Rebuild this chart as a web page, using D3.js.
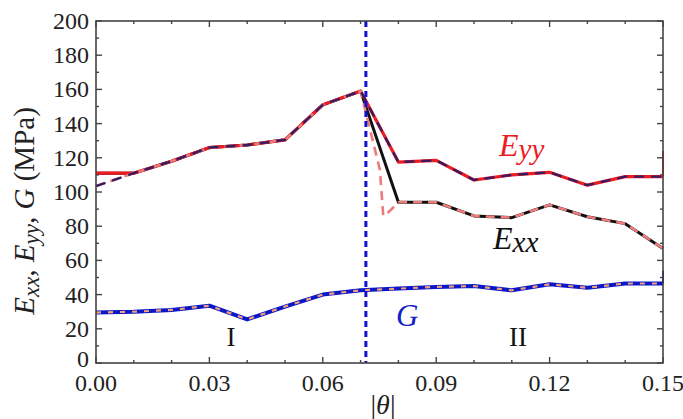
<!DOCTYPE html>
<html>
<head>
<meta charset="utf-8">
<script src="https://cdnjs.cloudflare.com/ajax/libs/d3/7.8.5/d3.min.js"></script>
<style>
  body { margin: 0; background: #fff; }
  svg text { font-family: "Liberation Serif", "Times New Roman", serif; }
</style>
</head>
<body>
<div id="svgDiv"></div>
<script>
// data
var thetaGrid = [0.00, 0.01, 0.02, 0.03, 0.04, 0.05, 0.06, 0.07, 0.08, 0.09, 0.10, 0.11, 0.12, 0.13, 0.14, 0.15];
var eyyVals  = [111, 111, 118, 126, 127.5, 130.5, 151, 159, 117.5, 118.5, 107, 110, 111.5, 104, 109, 109];
var exxVals  = [111, 111, 118, 126, 127.5, 130.5, 151, 159, 94, 94, 86, 85, 92.5, 85.5, 81.5, 67];
var gVals    = [29.5, 30, 31, 33.5, 25.5, 33, 40, 42.5, 43.5, 44.5, 45, 42.5, 46, 44, 46.5, 46.5];

// edge segments at the right border
var eyyEdgeX = [0.15, 0.15], eyyEdgeY = [109, 124];
var gEdgeX = [0.15, 0.15], gEdgeY = [46.5, 54];

// dashed overlays
var eyyFitX = [0.00, 0.01, 0.02, 0.03, 0.04, 0.05, 0.06, 0.07, 0.08, 0.09, 0.10, 0.11, 0.12, 0.13, 0.14, 0.15];
var eyyFitY = [103.5, 111, 118, 126, 127.5, 130.5, 151, 159, 117.5, 118.5, 107, 110, 111.5, 104, 109, 109];
var exxFitX = [0.00, 0.01, 0.02, 0.03, 0.04, 0.05, 0.06, 0.07, 0.0751, 0.076, 0.0773, 0.08, 0.09, 0.10, 0.11, 0.12, 0.13, 0.14, 0.15];
var exxFitY = [103.5, 111, 118, 126, 127.5, 130.5, 151, 159, 113, 86, 88, 94, 94, 86, 85, 92.5, 85.5, 81.5, 67];

var boundaryTheta = 0.0714;
var xTicks = [0.00, 0.03, 0.06, 0.09, 0.12, 0.15];
var yTicks = [0, 20, 40, 60, 80, 100, 120, 140, 160, 180, 200];

var svgWidth = 683, svgHeight = 419;
var margin = {left: 96, right: 20, top: 21, bottom: 56};

var svg = d3.select("#svgDiv").append("svg")
    .attr("width", svgWidth)
    .attr("height", svgHeight);

var xScale = d3.scaleLinear().domain([0, 0.15]).range([margin.left, svgWidth - margin.right]);
var yScale = d3.scaleLinear().domain([0, 200]).range([svgHeight - margin.bottom, margin.top]);

var x0 = xScale.range()[0], x1 = xScale.range()[1];
var y0 = yScale.range()[0], y1 = yScale.range()[1];

// ticks (inward, on all four sides)
var xMinor = d3.range(0, 0.1501, 0.01);
var yMinor = d3.range(0, 201, 10);
var axisColor = "#444";

var tickG = svg.append("g").attr("stroke", axisColor).attr("stroke-width", 1.4);
xMinor.forEach(function(v, i) {
    var len = (i % 3 === 0) ? 6 : 3;
    tickG.append("line").attr("x1", xScale(v)).attr("x2", xScale(v)).attr("y1", y0).attr("y2", y0 - len);
    tickG.append("line").attr("x1", xScale(v)).attr("x2", xScale(v)).attr("y1", y1).attr("y2", y1 + len);
});
yMinor.forEach(function(v, i) {
    var len = (i % 2 === 0) ? 6 : 3;
    tickG.append("line").attr("y1", yScale(v)).attr("y2", yScale(v)).attr("x1", x0).attr("x2", x0 + len);
    tickG.append("line").attr("y1", yScale(v)).attr("y2", yScale(v)).attr("x1", x1).attr("x2", x1 - len);
});

// tick labels
svg.append("g").selectAll("text").data(xTicks).enter().append("text")
    .attr("x", d => xScale(d))
    .attr("y", y0 + 28)
    .attr("text-anchor", "middle")
    .attr("font-size", 24)
    .attr("fill", "#222")
    .text(d => d3.format(".2f")(d));

svg.append("g").selectAll("text").data(yTicks).enter().append("text")
    .attr("x", x0 - 7)
    .attr("y", d => yScale(d) + (d === 0 ? 4 : 8))
    .attr("text-anchor", "end")
    .attr("font-size", 24)
    .attr("fill", "#222")
    .text(d => d);

// curves
var line = d3.line().x(d => xScale(d[0])).y(d => yScale(d[1]));
function pts(xs, ys) { return xs.map(function(x, i) { return [x, ys[i]]; }); }

var plot = svg.append("g").attr("fill", "none").attr("stroke-linejoin", "round");

plot.append("path").attr("d", line(pts(thetaGrid, gVals))).attr("stroke", "#0b18c8").attr("stroke-width", 4);
plot.append("path").attr("d", line(pts(gEdgeX, gEdgeY))).attr("stroke", "#0b18c8").attr("stroke-width", 2);
plot.append("path").attr("d", line(pts(thetaGrid, gVals))).attr("stroke", "#f2a07a").attr("stroke-width", 2.2)
    .attr("stroke-dasharray", "5,7");

plot.append("path").attr("d", line(pts(thetaGrid, exxVals))).attr("stroke", "#111").attr("stroke-width", 3);
plot.append("path").attr("d", line(pts(thetaGrid, eyyVals))).attr("stroke", "#ec1c24").attr("stroke-width", 3.2);
plot.append("path").attr("d", line(pts(eyyEdgeX, eyyEdgeY))).attr("stroke", "#ec1c24").attr("stroke-width", 2);

plot.append("path").attr("d", line(pts(exxFitX, exxFitY))).attr("stroke", "#ee7b7b").attr("stroke-width", 2.6)
    .attr("stroke-dasharray", "9,6");
plot.append("path").attr("d", line(pts(eyyFitX, eyyFitY))).attr("stroke", "#3a1a60").attr("stroke-width", 2.4)
    .attr("stroke-dasharray", "10,7");

// boundary between regions
svg.append("line")
    .attr("x1", xScale(boundaryTheta)).attr("x2", xScale(boundaryTheta))
    .attr("y1", y1).attr("y2", y0)
    .attr("stroke", "#1010d0").attr("stroke-width", 3)
    .attr("stroke-dasharray", "6,4");

// frame
svg.append("rect")
    .attr("x", x0).attr("y", y1)
    .attr("width", x1 - x0).attr("height", y0 - y1)
    .attr("fill", "none").attr("stroke", axisColor).attr("stroke-width", 1.6);

// in-plot labels
function subLabel(x, y, sub, color) {
    var t = svg.append("text").attr("x", x).attr("y", y).attr("fill", color)
        .attr("font-size", 32).attr("font-style", "italic");
    t.append("tspan").text("E");
    t.append("tspan").attr("font-size", 29).attr("dy", 3).text(sub);
}
subLabel(499, 156, "yy", "#ec1c24");
subLabel(493, 249, "xx", "#111");

svg.append("text").attr("x", 396).attr("y", 326).attr("font-size", 31).attr("font-style", "italic")
    .attr("fill", "#1420c8").text("G");
svg.append("text").attr("x", 231).attr("y", 346).attr("text-anchor", "middle").attr("font-size", 27)
    .attr("fill", "#111").text("I");
svg.append("text").attr("x", 518).attr("y", 346).attr("text-anchor", "middle").attr("font-size", 27)
    .attr("fill", "#111").text("II");

// axis titles
var xt = svg.append("text").attr("x", 383).attr("y", 414).attr("text-anchor", "middle")
    .attr("font-size", 28).attr("fill", "#222");
xt.append("tspan").text("|");
xt.append("tspan").attr("font-style", "italic").text("θ");
xt.append("tspan").text("|");

var yt = svg.append("text")
    .attr("transform", "translate(34,211) rotate(-90)")
    .attr("text-anchor", "middle")
    .style("white-space", "pre")
    .attr("font-size", 29).attr("fill", "#222");
yt.append("tspan").attr("font-style", "italic").text("E");
yt.append("tspan").attr("font-style", "italic").attr("font-size", 23).attr("dy", 5).text("xx");
yt.append("tspan").attr("dy", -5).text(", ");
yt.append("tspan").attr("font-style", "italic").text("E");
yt.append("tspan").attr("font-style", "italic").attr("font-size", 23).attr("dy", 5).text("yy");
yt.append("tspan").attr("dy", -5).text(", ");
yt.append("tspan").attr("font-style", "italic").text("G");
yt.append("tspan").text(" (MPa)");
</script>
</body>
</html>
